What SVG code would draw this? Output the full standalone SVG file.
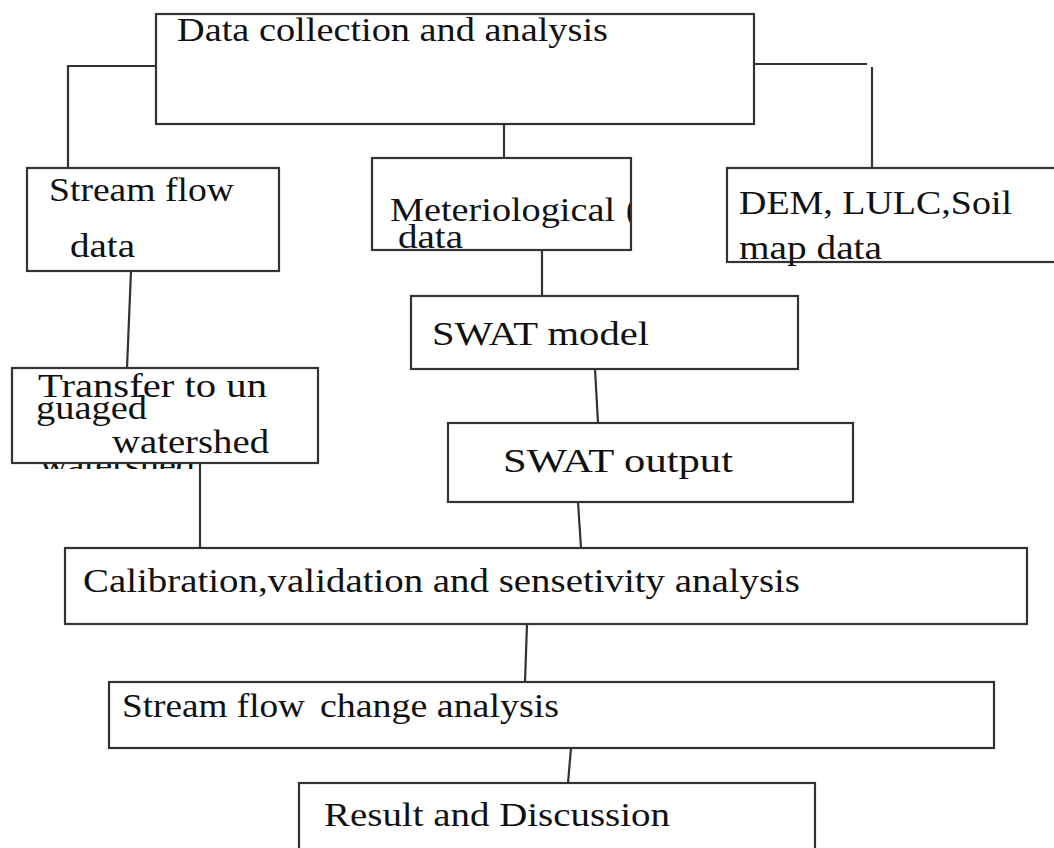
<svg xmlns="http://www.w3.org/2000/svg" width="1054" height="848" viewBox="0 0 1054 848">
<style>
.box{fill:#fff;stroke:#333;stroke-width:2.2}
.con{fill:none;stroke:#333;stroke-width:2.2}
text{font-family:"Liberation Serif","Times New Roman",serif;font-size:33px;fill:#111}
</style>
<defs>
<clipPath id="clipMet"><rect x="372" y="158" width="258" height="92"/></clipPath>
<clipPath id="clipGhost"><rect x="36" y="464" width="162" height="5"/></clipPath>
</defs>
<rect width="1054" height="848" fill="#fff"/>
<g id="connectors">
<path class="con" d="M156,66 H68 V168"/>
<path class="con" d="M754,64 H867 M872,67 V168"/>
<path class="con" d="M504,124 V158"/>
<path class="con" d="M542,250 V296"/>
<path class="con" d="M595,369 L598,423"/>
<path class="con" d="M578,502 L581,548"/>
<path class="con" d="M131,271 L127,368"/>
<path class="con" d="M200,463 V548"/>
<path class="con" d="M527,624 L525,682"/>
<path class="con" d="M571,748 L568,783"/>
</g>
<g id="ghost">
<text x="40" y="476" textLength="155" lengthAdjust="spacingAndGlyphs" clip-path="url(#clipGhost)" fill="#444">watershed</text>
</g>
<g id="data-collection">
<rect class="box" x="156" y="14" width="598" height="110"/>
<text x="177" y="41" textLength="431" lengthAdjust="spacingAndGlyphs">Data collection and analysis</text>
</g>
<g id="stream-flow-data">
<rect class="box" x="27" y="168" width="252" height="103"/>
<text x="49" y="201" textLength="185" lengthAdjust="spacingAndGlyphs">Stream flow</text>
<text x="70" y="257" textLength="65" lengthAdjust="spacingAndGlyphs">data</text>
</g>
<g id="meteriological-data">
<rect class="box" x="372" y="158" width="259" height="92"/>
<text x="390" y="221" textLength="225" lengthAdjust="spacingAndGlyphs">Meteriological</text>
<text x="626" y="221" clip-path="url(#clipMet)">(</text>
<text x="398" y="248" textLength="65" lengthAdjust="spacingAndGlyphs">data</text>
</g>
<g id="dem-lulc-soil">
<rect class="box" x="727" y="168" width="340" height="94"/>
<text x="739" y="214" textLength="273" lengthAdjust="spacingAndGlyphs">DEM, LULC,Soil</text>
<text x="739" y="259" textLength="143" lengthAdjust="spacingAndGlyphs">map data</text>
</g>
<g id="transfer">
<rect class="box" x="12" y="368" width="306" height="95"/>
<text x="38" y="397" textLength="229" lengthAdjust="spacingAndGlyphs">Transfer to un</text>
<text x="36" y="419" textLength="111" lengthAdjust="spacingAndGlyphs">guaged</text>
<text x="112" y="453" textLength="157" lengthAdjust="spacingAndGlyphs">watershed</text>
</g>
<g id="swat-model">
<rect class="box" x="411" y="296" width="387" height="73"/>
<text x="432" y="345" textLength="217" lengthAdjust="spacingAndGlyphs">SWAT model</text>
</g>
<g id="swat-output">
<rect class="box" x="448" y="423" width="405" height="79"/>
<text x="503" y="472" textLength="230" lengthAdjust="spacingAndGlyphs">SWAT output</text>
</g>
<g id="calibration">
<rect class="box" x="65" y="548" width="962" height="76"/>
<text x="83" y="592" textLength="717" lengthAdjust="spacingAndGlyphs">Calibration,validation and sensetivity analysis</text>
</g>
<g id="stream-flow-change">
<rect class="box" x="109" y="682" width="885" height="66"/>
<text x="122" y="717" textLength="183" lengthAdjust="spacingAndGlyphs">Stream flow</text>
<text x="320" y="717" textLength="239" lengthAdjust="spacingAndGlyphs">change analysis</text>
</g>
<g id="result">
<rect class="box" x="299" y="783" width="516" height="80"/>
<text x="324" y="826" textLength="346" lengthAdjust="spacingAndGlyphs">Result and Discussion</text>
</g>
</svg>
